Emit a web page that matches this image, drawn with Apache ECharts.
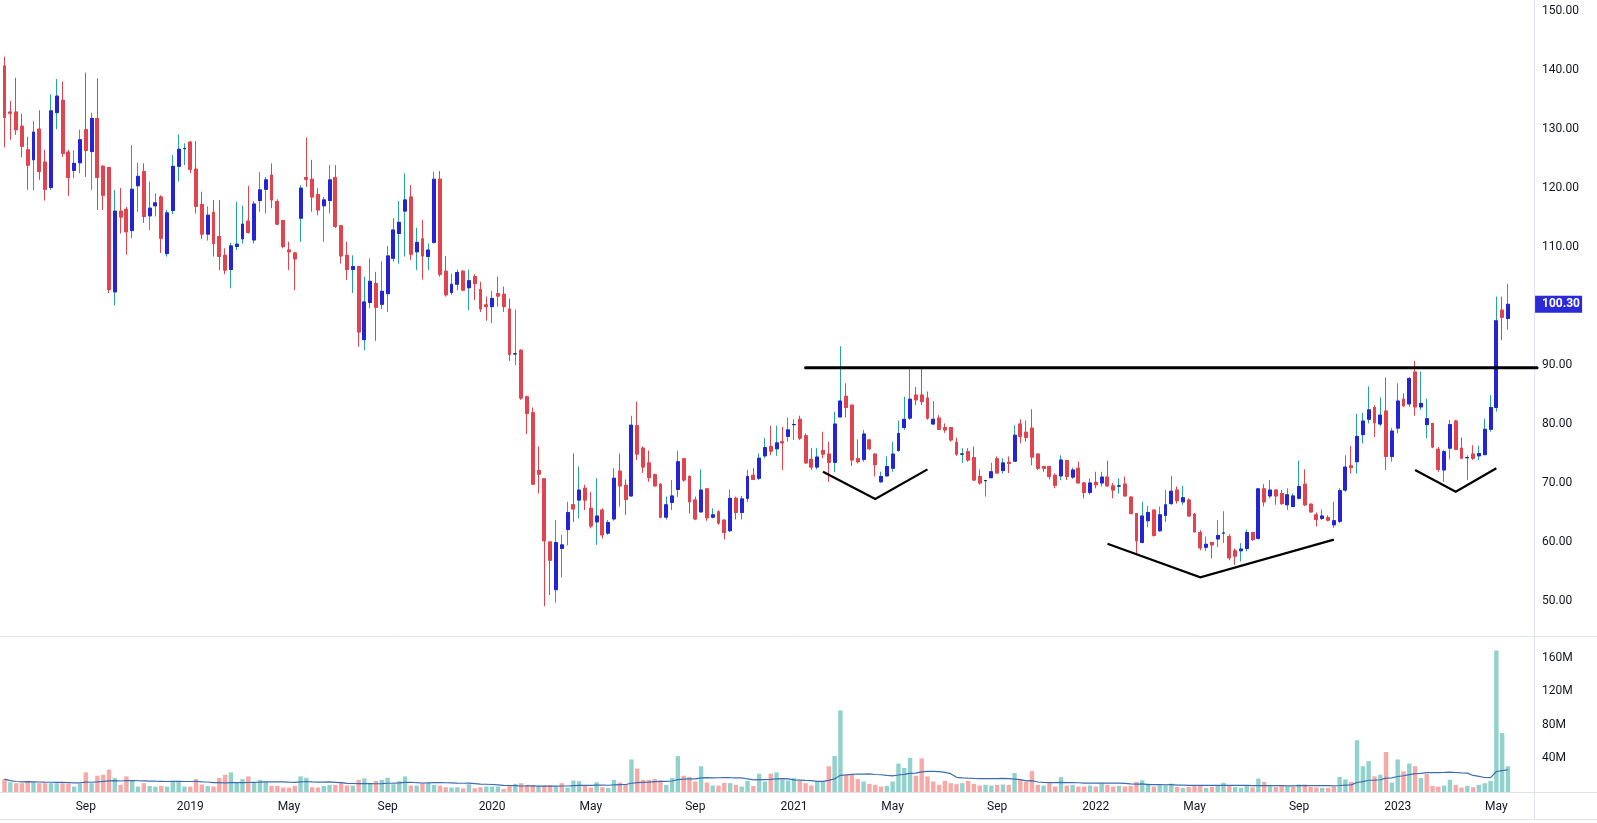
<!DOCTYPE html>
<html><head><meta charset="utf-8">
<script src="https://cdn.jsdelivr.net/npm/echarts@6/dist/echarts.min.js"></script>
<style>html,body{margin:0;padding:0;background:#fff;}#c{width:1597px;height:823px;}</style>
</head><body><div id="c"></div>
<script>
// ---------- DATA ----------
const startWeek = '2018-05-28';       // first weekly bar (Monday)
const extraSlots = 4;                 // empty weeks at right edge
const opens = [
140.7,132.9,132.9,130.5,126.5,124.8,130.0,124.4,120.1,132.8,
134.9,126.1,123.0,124.3,129.9,126.2,131.8,123.7,123.5,102.4,
116.1,116.4,112.8,120.4,122.8,115.3,117.0,118.5,108.9,116.2,
123.7,126.7,127.8,123.2,117.2,112.2,115.9,111.8,108.6,106.2,
110.1,111.4,114.4,111.2,117.9,119.8,122.2,117.7,114.5,109.5,
109.0,114.9,121.8,121.5,118.9,117.0,117.9,121.8,113.6,108.6,
106.2,106.7,94.3,100.6,103.8,100.3,102.1,108.1,112.3,116.1,
118.5,109.2,111.4,108.4,110.8,121.5,105.9,102.3,103.7,105.9,
103.1,105.0,102.8,100.2,99.9,102.1,102.0,99.5,91.9,92.5,
84.6,81.9,72.1,70.7,60.0,51.9,58.9,62.1,66.3,67.1,
69.1,65.7,63.4,65.4,61.5,63.9,72.0,69.6,67.8,79.7,
75.9,73.4,71.4,69.8,64.2,66.7,68.9,74.1,71.1,67.1,
65.1,69.0,64.2,65.1,63.7,61.9,67.4,65.0,67.4,71.3,
70.8,74.6,76.2,75.8,77.0,77.9,79.9,80.8,78.0,74.0,
72.7,75.5,74.9,73.5,81.2,84.7,83.2,74.1,74.0,77.3,
74.9,70.2,71.2,72.5,75.5,79.4,81.0,84.9,84.9,84.4,
80.0,81.0,79.4,79.4,76.9,74.9,75.3,74.3,71.1,70.4,
70.9,74.1,72.1,73.5,73.7,80.0,78.6,79.3,74.9,72.8,
72.8,71.3,71.2,73.8,71.0,72.5,70.0,68.4,70.1,70.0,
71.0,69.5,69.5,69.8,67.6,64.8,59.9,63.6,65.4,61.9,
64.5,66.5,68.8,66.8,67.1,64.7,61.6,59.1,59.9,60.5,
61.5,60.9,58.5,58.5,58.9,61.6,60.6,69.0,67.8,68.8,
68.2,66.3,66.0,67.4,69.8,66.4,64.6,64.0,64.1,62.9,
63.5,68.8,72.9,73.6,78.2,80.8,82.8,80.0,82.2,74.5,
79.3,84.2,83.4,88.8,82.9,79.9,80.1,75.7,72.2,75.9,
80.5,75.9,74.3,74.9,74.6,74.8,79.1,82.8,99.3,97.9];
const closes = [
132.0,132.7,129.9,127.1,123.9,129.5,122.8,119.8,133.1,135.6,
125.9,121.8,124.2,128.2,126.4,131.8,121.8,118.8,102.8,116.1,
115.1,112.6,119.8,122.0,115.2,116.6,117.5,111.5,115.8,123.7,
126.6,126.7,123.2,116.9,112.2,115.4,110.6,108.4,106.1,110.2,
110.5,113.9,112.5,117.3,119.7,121.4,118.0,113.9,110.1,109.2,
108.0,120.0,121.5,118.5,116.3,118.0,121.4,113.5,108.5,106.2,
106.7,95.6,100.7,104.2,99.8,102.5,108.5,112.9,114.2,118.0,
108.8,110.8,108.5,109.5,121.5,105.4,101.9,103.7,105.7,102.7,
104.3,103.8,99.5,99.9,101.3,101.7,99.9,91.8,91.9,84.4,
81.8,69.8,71.5,60.2,56.9,59.9,59.5,65.0,65.6,68.8,
67.1,62.7,64.4,61.2,63.3,70.8,69.5,67.2,79.8,74.9,
72.7,70.9,69.5,64.2,66.3,67.8,73.6,70.5,66.8,63.9,
68.8,64.1,64.6,63.2,61.6,67.4,65.0,67.3,71.1,70.6,
74.2,76.0,75.4,76.8,76.8,79.0,79.9,77.6,73.4,72.7,
74.4,74.9,73.5,80.0,83.9,82.8,73.9,73.6,78.3,75.8,
73.1,71.1,72.8,74.9,78.4,80.8,84.2,84.1,83.8,81.0,
80.8,79.1,79.0,77.3,74.9,74.9,73.9,70.5,70.0,70.4,
71.9,71.7,73.4,73.3,78.1,77.9,77.7,74.4,72.5,72.5,
71.1,69.6,73.9,71.1,72.2,70.0,68.4,70.0,69.7,71.0,
69.5,68.8,69.5,67.8,64.8,60.2,64.4,65.0,61.1,64.6,
66.3,68.6,67.0,67.5,64.4,61.7,59.0,59.6,59.5,61.1,
61.5,57.3,57.6,58.8,61.6,60.4,69.0,66.8,68.8,67.8,
66.5,68.0,67.8,69.4,66.3,65.1,63.8,64.4,63.7,63.6,
68.7,72.7,72.6,77.9,80.5,82.4,80.2,81.5,74.5,78.8,
83.9,83.1,87.7,82.9,83.5,80.9,76.1,72.3,75.3,79.9,
75.7,74.2,74.3,74.2,75.0,79.1,82.8,97.5,98.1,100.3];
const lows = [
126.9,128.2,129.0,125.2,119.7,119.6,121.4,117.9,119.7,130.0,
125.3,118.7,121.7,122.5,121.9,119.7,116.3,116.3,102.2,100.1,
112.3,108.7,111.5,116.0,114.1,112.9,115.2,109.0,108.4,115.6,
121.1,123.9,122.5,115.7,111.4,111.1,108.4,106.1,105.4,103.0,
109.5,110.6,112.3,110.6,116.0,115.7,116.6,113.7,109.8,106.1,
102.7,110.9,120.2,116.0,115.4,110.9,115.7,113.2,107.2,104.4,
102.2,93.1,92.5,99.6,94.1,99.5,99.0,107.5,107.2,108.4,
107.8,106.1,104.5,106.1,110.6,105.0,101.6,101.9,102.7,102.6,
99.3,101.0,99.0,97.5,97.1,99.9,99.0,90.7,90.0,84.1,
78.3,69.7,68.2,49.1,51.0,49.7,54.0,59.4,63.4,64.0,
65.4,62.3,59.5,60.6,61.2,63.6,66.0,64.6,67.7,73.9,
71.7,70.2,69.5,64.0,63.8,65.4,67.6,70.2,64.8,63.7,
65.0,63.6,64.0,62.9,60.4,61.7,63.8,63.8,66.8,70.5,
70.5,74.2,74.7,74.6,72.2,77.0,77.3,77.3,73.3,72.2,
72.3,74.2,70.2,71.9,81.1,81.1,72.9,73.3,73.6,75.6,
71.1,70.0,71.1,71.9,75.3,79.0,80.7,83.2,83.2,80.7,
79.8,79.0,78.5,77.0,74.6,73.4,73.6,70.4,69.7,67.7,
70.8,71.6,71.6,71.7,73.6,76.7,77.0,73.0,72.2,71.9,
70.6,69.1,70.5,70.5,70.7,70.0,67.4,68.0,69.1,69.4,
69.4,67.4,68.2,67.8,64.8,58.1,59.8,62.5,60.9,61.7,
63.4,66.3,66.5,66.3,64.3,61.6,58.6,58.5,57.2,59.1,
59.8,56.9,56.1,56.7,58.4,60.2,60.4,66.0,67.4,66.3,
66.3,65.4,65.9,67.2,66.1,65.0,62.6,63.7,63.5,62.4,
63.2,68.5,71.6,71.6,76.7,80.1,77.8,79.6,72.2,73.6,
78.4,82.9,82.9,81.4,82.4,77.6,75.9,71.9,70.2,74.0,
75.6,74.2,70.5,73.9,73.9,74.7,78.7,82.1,94.2,96.0];
const highs = [
142.3,134.8,138.7,132.6,128.7,131.4,133.2,126.5,135.9,138.5,
138.1,126.5,126.4,129.9,139.6,132.8,138.6,123.9,123.6,119.7,
120.0,116.8,127.3,124.3,124.2,121.1,119.1,118.8,116.3,125.6,
129.1,127.6,128.0,128.0,119.4,116.9,118.0,118.0,109.8,110.7,
117.7,117.0,120.4,117.8,122.7,121.9,124.2,118.1,114.6,110.9,
109.2,120.5,128.6,124.8,120.0,118.5,123.9,123.9,113.7,110.9,
108.6,106.7,105.0,108.1,105.8,107.6,110.2,114.9,117.8,122.5,
120.5,113.3,114.6,110.6,122.8,122.9,108.5,105.5,106.2,106.1,
106.2,105.4,104.1,101.6,102.6,105.0,103.3,101.3,99.4,92.7,
84.8,82.8,76.2,70.7,60.0,63.7,61.2,66.8,75.0,72.8,
69.7,68.5,70.8,65.7,63.7,72.5,75.0,70.6,81.4,83.8,
76.2,75.5,71.6,69.9,67.7,70.5,75.5,74.2,71.3,67.7,
72.3,69.0,65.7,65.4,63.8,68.9,67.7,67.8,72.2,72.5,
75.0,77.6,79.7,79.7,79.5,81.1,80.8,81.4,78.4,75.9,
75.9,78.7,77.0,82.1,93.2,86.9,83.2,77.4,79.0,77.3,
75.0,71.9,74.5,77.0,80.6,84.6,89.4,86.3,89.4,85.5,
83.9,81.5,80.1,79.5,77.7,75.9,75.9,76.2,72.3,70.5,
73.4,74.5,74.2,74.5,79.8,80.8,80.6,82.5,75.0,72.8,
72.9,71.6,74.7,73.9,72.6,73.6,70.2,70.8,71.9,71.9,
73.8,70.0,70.8,71.1,67.7,64.9,66.8,66.1,65.4,66.0,
68.8,71.2,69.4,69.5,67.4,64.9,62.0,60.9,60.0,63.7,
65.2,61.3,58.9,59.8,62.1,61.7,69.1,69.8,70.5,68.9,
68.8,69.1,68.2,73.8,72.3,66.5,65.0,65.5,64.5,66.8,
69.1,74.7,76.3,81.7,81.9,86.4,83.2,84.5,87.9,79.3,
86.9,85.2,88.0,90.7,88.9,84.3,80.1,76.1,75.6,80.7,
80.7,77.7,74.7,76.4,76.3,80.9,84.9,101.6,101.6,103.8];
// weekly volume, millions
const volumes = [
15.4,11.7,10.5,10.5,13.3,11.7,10.5,10.5,10.5,10.5,
10.5,10.5,6.5,9.7,23.4,10.5,19.4,20.6,26.7,16.6,
8.5,18.6,13.7,6.5,10.5,7.3,6.5,7.3,6.5,12.5,
12.5,6.5,6.5,15.4,8.9,7.3,6.5,16.6,20.6,23.4,
11.7,15.4,18.6,11.3,14.5,12.5,7.3,7.3,5.3,5.3,
7.3,18.6,17.0,5.7,5.3,7.3,8.5,8.5,11.3,7.7,
7.7,14.5,16.2,10.5,13.3,14.5,17.0,9.3,12.9,18.6,
7.7,7.7,10.5,10.5,8.5,7.7,5.7,5.3,5.7,4.4,
9.3,4.4,5.7,6.5,6.5,6.5,3.6,7.3,9.7,10.5,
8.5,8.5,7.3,7.7,8.1,6.5,10.5,5.3,13.7,12.9,
7.3,5.3,11.7,5.7,4.8,14.5,11.3,9.3,38.8,27.9,
14.5,14.5,15.4,13.7,8.5,16.6,42.8,19.4,17.8,12.5,
30.7,11.3,7.7,7.7,10.9,10.5,8.5,6.5,13.3,7.3,
21.8,12.5,21.8,23.4,14.5,13.7,16.6,13.3,10.5,7.7,
12.5,12.5,30.7,42.8,97.3,20.6,20.6,15.4,12.5,9.7,
8.5,6.5,7.3,12.5,33.9,28.7,40.8,19.4,40.0,18.6,
12.5,8.5,13.3,10.5,9.3,10.5,13.3,9.7,7.7,8.5,
7.7,8.5,8.9,8.5,22.6,14.5,12.0,25.0,8.5,7.7,
10.5,6.5,17.8,7.7,8.5,6.5,6.5,7.7,6.5,10.5,
8.5,6.5,7.3,6.5,7.3,12.0,14.0,10.0,6.5,8.0,
8.0,10.0,6.0,5.0,6.0,7.0,8.0,5.0,6.0,8.0,
11.0,7.0,6.0,5.0,8.0,5.5,16.0,12.0,7.0,6.0,
7.0,6.5,6.0,9.0,9.0,6.0,5.5,5.0,5.0,6.0,
18.0,15.0,12.0,61.8,30.7,36.8,18.6,20.6,47.7,11.3,
38.8,24.6,33.9,30.7,16.6,21.4,7.3,6.5,7.7,14.5,
8.5,5.3,7.3,5.7,8.5,10.5,13.3,168.8,70.3,30.7];
const tickDates = ['2018-09-03','2019-01-07','2019-05-06','2019-09-02','2020-01-06','2020-05-04','2020-09-07','2021-01-04','2021-05-03','2021-09-06','2022-01-03','2022-05-02','2022-09-05','2023-01-02','2023-05-01'];
const tickTexts = ['Sep','2019','May','Sep','2020','May','Sep','2021','May','Sep','2022','May','Sep','2023','May'];
const priceTicks = [50,60,70,80,90,100,110,120,130,140,150];
const volumeTicks = [40,80,120,160];
const volumeMaLength = 20;
const lastPrice = 100.30;
// drawn annotations, in [week index, price]
const resistanceLine = [[137.9, 89.55],[263.5, 89.55]];
const patternLines = [
  [[140.6, 71.9],[149.7, 67.3],[159.1, 72.3]],
  [[189.9, 59.7],[205.9, 54.0],[229.2, 60.4]],
  [[243.1, 72.2],[250.3, 68.5],[257.2, 72.5]]
];

// ---------- BUILD ----------
const n = closes.length;
const cats = [];
const t0 = Date.parse(startWeek + 'T00:00:00Z');
for (let i = 0; i < n + extraSlots; i++) {
  cats.push(new Date(t0 + i * 7 * 86400000).toISOString().slice(0, 10));
}
const wickData = [], bodyData = [], volData = [], maData = [];
for (let i = 0; i < n; i++) {
  const o = opens[i], c = closes[i];
  wickData.push([o, c, lows[i], highs[i]]);
  bodyData.push([o, c, Math.min(o, c), Math.max(o, c)]);
  const prev = i > 0 ? closes[i - 1] : o;
  volData.push({ value: volumes[i], itemStyle: { color: c >= prev ? '#92d2cc' : '#f7a9a7' } });
  let s = 0, k = 0;
  for (let j = Math.max(0, i - volumeMaLength + 1); j <= i; j++) { s += volumes[j]; k++; }
  maData.push(+(s / k).toFixed(2));
}

const FONT = 'Roboto, "Liberation Sans", sans-serif';
const TXT = '#131722';
const GL = 1.6, GR = 62.9;
const chart = echarts.init(document.getElementById('c'));
chart.setOption({
  animation: false,
  backgroundColor: '#ffffff',
  grid: [
    { left: GL, right: GR, top: 0, height: 636 },
    { left: GL, right: GR, top: 636, height: 156 }
  ],
  xAxis: [
    { type: 'category', gridIndex: 0, data: cats, boundaryGap: true,
      axisLine: { show: false }, axisTick: { show: false }, axisLabel: { show: false }, splitLine: { show: false } },
    { type: 'category', gridIndex: 1, data: cats, boundaryGap: true,
      axisLine: { show: false }, axisTick: { show: false }, splitLine: { show: false },
      axisLabel: { show: true, interval: (idx, val) => tickDates.indexOf(val) >= 0,
        formatter: (val) => tickTexts[tickDates.indexOf(val)] || '',
        color: TXT, fontSize: 12, fontFamily: FONT, margin: 9 } }
  ],
  yAxis: [
    { type: 'value', gridIndex: 0, position: 'right', min: 44.05, max: 151.9, scale: true,
      axisLine: { show: false }, axisTick: { show: false }, splitLine: { show: false },
      axisLabel: { customValues: priceTicks, formatter: (v) => v.toFixed(2), color: TXT, fontSize: 12, fontFamily: FONT, margin: 8 } },
    { type: 'value', gridIndex: 1, position: 'right', min: 0, max: 186,
      axisLine: { show: false }, axisTick: { show: false }, splitLine: { show: false },
      axisLabel: { customValues: volumeTicks, formatter: (v) => v + 'M', color: TXT, fontSize: 12, fontFamily: FONT, margin: 8 } }
  ],
  series: [
    { type: 'candlestick', name: 'wick', xAxisIndex: 0, yAxisIndex: 0, data: wickData, barWidth: 3.4, silent: true,
      itemStyle: { color: 'rgba(0,0,0,0)', color0: 'rgba(0,0,0,0)', borderColor: '#26a69a', borderColor0: '#e2444f', borderColorDoji: '#26a69a', borderWidth: 1 } },
    { type: 'candlestick', name: 'body', xAxisIndex: 0, yAxisIndex: 0, data: bodyData, barWidth: 3.4, silent: true,
      itemStyle: { color: '#2424d6', color0: '#e2444f', borderColor: '#2424d6', borderColor0: '#e2444f', borderColorDoji: '#20206a', borderWidth: 1 } },
    { type: 'bar', name: 'vol', xAxisIndex: 1, yAxisIndex: 1, data: volData, barWidth: 4.4, silent: true },
    { type: 'line', name: 'volma', xAxisIndex: 1, yAxisIndex: 1, data: maData, symbol: 'none', silent: true,
      lineStyle: { color: '#3d6db0', width: 1.2 } }
  ]
});

// overlay drawings and separators
const px = (pt) => chart.convertToPixel({ xAxisIndex: 0, yAxisIndex: 0 }, pt);
const gfx = [];
const sep = '#e0e3eb';
const W = 1597, RX = W - GR;
gfx.push({ type: 'line', shape: { x1: RX + 0.5, y1: 0, x2: RX + 0.5, y2: 819 }, style: { stroke: sep, lineWidth: 1 }, silent: true });
gfx.push({ type: 'line', shape: { x1: 0, y1: 636.5, x2: W, y2: 636.5 }, style: { stroke: sep, lineWidth: 1 }, silent: true });
gfx.push({ type: 'line', shape: { x1: 0, y1: 792.5, x2: W, y2: 792.5 }, style: { stroke: sep, lineWidth: 1 }, silent: true });
gfx.push({ type: 'line', shape: { x1: 0, y1: 819.5, x2: W, y2: 819.5 }, style: { stroke: sep, lineWidth: 1 }, silent: true });
const r0 = px(resistanceLine[0]), r1 = px(resistanceLine[1]);
gfx.push({ type: 'line', shape: { x1: r0[0], y1: r0[1], x2: r1[0], y2: r1[1] }, style: { stroke: '#000', lineWidth: 3, lineCap: 'round' }, silent: true, z: 10 });
patternLines.forEach(pl => {
  gfx.push({ type: 'polyline', shape: { points: pl.map(px) }, style: { stroke: '#000', lineWidth: 2.2, fill: null, lineJoin: 'miter' }, silent: true, z: 10 });
});
const ly = px([n - 1, lastPrice])[1];
gfx.push({ type: 'rect', shape: { x: RX + 1, y: ly - 8.5, width: 47, height: 17 }, style: { fill: '#2a2ad9' }, silent: true, z: 20 });
gfx.push({ type: 'text', x: RX + 8, y: ly, style: { text: lastPrice.toFixed(2), fill: '#fff', font: 'bold 12px ' + FONT, verticalAlign: 'middle' }, silent: true, z: 21 });
chart.setOption({ graphic: gfx });
</script></body></html>
